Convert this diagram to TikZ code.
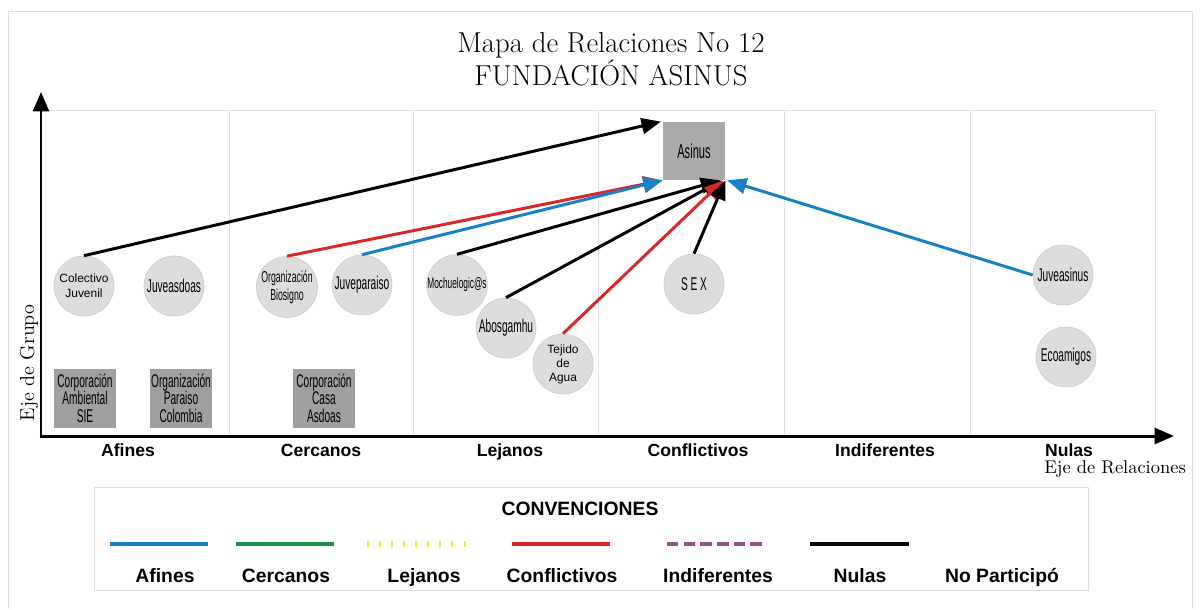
\documentclass[tikz,border=0pt]{standalone}
\usepackage{fontspec}
\setsansfont{Liberation Sans}
\newfontfamily\narrowsf[FakeStretch=0.55]{Liberation Sans}
\usepackage{tikz}
\usetikzlibrary{arrows.meta}

\definecolor{afin}{RGB}{26,128,198}
\definecolor{cerc}{RGB}{24,148,64}
\definecolor{lejan}{RGB}{238,236,40}
\definecolor{confl}{RGB}{214,40,40}
\definecolor{indif}{RGB}{152,80,136}
\definecolor{circgray}{RGB}{221,221,221}
\definecolor{circedge}{RGB}{206,206,206}
\definecolor{boxgray}{RGB}{160,160,160}
\definecolor{gridgray}{RGB}{224,224,224}

\begin{document}
\begin{tikzpicture}[x=0.02cm, y=-0.02cm,
    actor/.style ={circle, fill=circgray, draw=circedge, minimum size=1.2cm,
      inner sep=0pt, align=center, font=\narrowsf\fontsize{10.5}{12}\selectfont},
    group/.style ={rectangle, fill=boxgray, minimum width=1.26cm, minimum height=1.18cm,
      inner sep=0pt, align=center, font=\narrowsf\fontsize{10.5}{10}\selectfont},
    hub/.style ={rectangle, fill=boxgray!90, minimum width=1.24cm, minimum height=1.16cm,
      inner sep=0pt, font=\narrowsf\fontsize{11.5}{12}\selectfont},
    rel/.style ={line width=1.7pt, -{Triangle[length=11pt,width=9pt]}},
    axis/.style ={line width=1.7pt, -{Triangle[length=11pt,width=9pt]}},
    collabel/.style ={anchor=base, font=\sffamily\bfseries\fontsize{10}{12}\selectfont},
    leglabel/.style ={anchor=base, font=\sffamily\bfseries\fontsize{11}{13}\selectfont},
    sample/.style ={line width=2.3pt}]
   \useasboundingbox (0,0) rectangle (1200,609);

   % marco y cuadricula
   \draw[gridgray] (8,609) -- (8,11) -- (1192,11) -- (1192,609);
   \draw[gridgray] (41,110) -- (1155,110);
   \foreach \x in {229,413,598,784,970,1155}
     \draw[gridgray] (\x,110) -- (\x,436);

   % ejes
   \coordinate (origen) at (41,436);
   \coordinate (ytop) at (41,92);
   \coordinate (xend) at (1174,436);
   \draw[axis] (origen) -- (ytop);
   \draw[axis] ([xshift=-0.8pt]origen) -- (xend);

   \node[font=\rmfamily\fontsize{16.4}{17.6}\selectfont, align=center] (titulo) at (611,59)
     {Mapa de Relaciones No 12\\FUNDACIÓN ASINUS};
   \node[font=\rmfamily\fontsize{11.5}{12}\selectfont, rotate=90] (ejegrupo) at (29,363) {Eje de Grupo};
   \node[font=\rmfamily\fontsize{10.5}{12}\selectfont, anchor=east] (ejerel) at (1192,469) {Eje de Relaciones};

   \foreach \x/\t in {128/Afines, 321/Cercanos, 510/Lejanos, 698/Conflictivos, 885/Indiferentes, 1069/Nulas}
     \node[collabel] (col\x) at (\x,456) {\t};

   % actores
   \node[hub] (asinus) at (694,151) {Asinus};
   \node[actor, font=\sffamily\fontsize{6.8}{8.5}\selectfont] (colectivo) at (84,286) {Colectivo\\Juvenil};
   \node[actor] (juveasdoas) at (174,286) {Juveasdoas};
   \node[actor, font=\narrowsf\fontsize{9}{10.4}\selectfont] (biosigno) at (287,287) {Organización\\Biosigno};
   \node[actor] (juveparaiso) at (362,285) {Juveparaiso};
   \node[actor, font=\narrowsf\fontsize{8.6}{10}\selectfont] (mochuelo) at (457,285) {Mochuelogic@s};
   \node[actor] (abosgamhu) at (506,328) {Abosgamhu};
   \node[actor, font=\sffamily\fontsize{6.8}{8}\selectfont] (tejido) at (563,364) {Tejido\\de\\Agua};
   \node[actor] (sex) at (694,284) {S E X};
   \node[actor] (juveasinus) at (1063,275) {Juveasinus};
   \node[actor] (ecoamigos) at (1066,357) {Ecoamigos};

   \node[group] (sie) at (85,398) {Corporación\\Ambiental\\SIE};
   \node[group] (paraiso) at (181,398) {Organización\\Paraiso\\Colombia};
   \node[group] (casa) at (324,398) {Corporación\\Casa\\Asdoas};

   % relaciones
   \draw[rel] (colectivo.north) to ([xshift=-1pt]asinus.north west);
   \draw[rel, confl] (biosigno.north) to (asinus.south west);
   \draw[rel, afin] (juveparaiso.north) to (asinus.south west);
   \draw[rel] (mochuelo.north) to ([xshift=-3pt]asinus.south east);
   \draw[rel] (abosgamhu.north) to ([xshift=-2pt]asinus.south east);
   \draw[rel, confl] (tejido.north) to ([xshift=-1pt]asinus.south east);
   \draw[rel] (sex.north) to (asinus.south east);
   \draw[rel, afin] (juveasinus.west) to ([xshift=1pt]asinus.south east);

   % convenciones
   \draw[gridgray] (94,487) rectangle (1088,590);
   \node[leglabel, anchor=center] (conv) at (580,509) {CONVENCIONES};
   \draw[sample, afin] (110,544) -- (208,544);
   \draw[sample, cerc] (236,544) -- (334,544);
   \draw[sample, lejan, line width=3.5pt, dash pattern=on 1.1pt off 5.7pt] (367,544) -- (454,544);
   \draw[sample, lejan, line width=3.5pt] (464,544) -- (466,544);
   \draw[sample, confl] (512,544) -- (610,544);
   \draw[sample, indif, dash pattern=on 6.5pt off 3pt] (667,544) -- (766,544);
   \draw[sample, black] (810,544) -- (909,544);
   \foreach \x/\t in {165/Afines, 286/Cercanos, 424/Lejanos, 562/Conflictivos, 718/Indiferentes, 860/Nulas, 1002/No Participó}
     \node[leglabel] (leg\x) at (\x,582) {\t};
 \end{tikzpicture}
\end{document}
